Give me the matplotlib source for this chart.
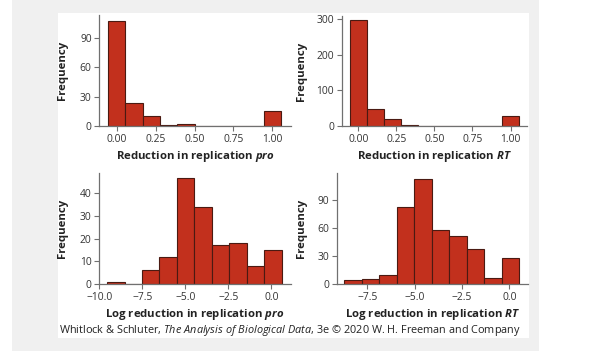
import numpy as np
import matplotlib
matplotlib.use("Agg")
import matplotlib.pyplot as plt
from matplotlib.patches import Rectangle

# ---------------------------------------------------------------------------
# Gegevens.
# ---------------------------------------------------------------------------
frac_edges = [-0.056, 0.056, 0.167, 0.278, 0.389, 0.5, 0.611, 0.722, 0.833, 0.944, 1.056]
pro_counts = [107, 23, 10, 1, 2, 0, 0, 0, 0, 15]
rt_counts = [296, 47, 20, 3, 1, 1, 0, 0, 0, 28]

log_pro_edges = [-9.55, -8.535, -7.52, -6.505, -5.49, -4.475, -3.46, -2.445, -1.43, -0.415, 0.6]
log_pro_counts = [1, 0, 6, 12, 47, 34, 17, 18, 8, 15]

log_rt_edges = [-8.71, -7.79, -6.87, -5.94, -5.02, -4.10, -3.18, -2.26, -1.33, -0.41, 0.51]
log_rt_counts = [4, 5, 10, 83, 113, 58, 51, 38, 6, 28]

frac_ticks = [0, 0.25, 0.5, 0.75, 1.0]
frac_ticklabels = ["0.00", "0.25", "0.50", "0.75", "1.00"]
log_pro_ticks = [-10, -7.5, -5, -2.5, 0]
log_pro_ticklabels = ["\u221210.0", "\u22127.5", "\u22125.0", "\u22122.5", "0.0"]
log_rt_ticks = [-7.5, -5, -2.5, 0]
log_rt_ticklabels = ["\u22127.5", "\u22125.0", "\u22122.5", "0.0"]

FONT = "Open Sans"
plt.rcParams["font.family"] = [FONT, "DejaVu Sans"]
plt.rcParams["mathtext.fontset"] = "custom"
plt.rcParams["mathtext.rm"] = FONT
plt.rcParams["mathtext.it"] = f"{FONT}:italic"
plt.rcParams["mathtext.bfit"] = f"{FONT}:italic:bold"

BAR = "#c2301d"
EDGE = "#4a1a12"
SPINE = "#707070"
TXT = "#333333"

W, H = 613, 351
fig = plt.figure(figsize=(W / 100, H / 100), dpi=100)


def px_rect(x0, y0, x1, y1):
    """Rechthoek in pixelcoordinaten (y van boven) -> figuurfracties."""
    return [x0 / W, 1 - y1 / H, (x1 - x0) / W, (y1 - y0) / H]


# achtergrond: grijze band met witte binnenkader
for (x0, y0, x1, y1), col in [((12, 0, 539, H), "#f0f0f0"), ((58, 13, 529, 338), "white")]:
    l, b, w, h = px_rect(x0, y0, x1, y1)
    fig.add_artist(Rectangle((l, b), w, h, transform=fig.transFigure,
                             facecolor=col, edgecolor="none", zorder=-10))


def histogram(rect, label_x, edges, counts, xlim, ylim, xticks, xticklabels, yticks, xlabel):
    ax = fig.add_axes(px_rect(*rect))
    ax.patch.set_alpha(0)
    edges = np.asarray(edges)
    ax.bar(edges[:-1], counts, width=np.diff(edges), align="edge",
           color=BAR, edgecolor=EDGE, linewidth=0.8)
    ax.set_xlim(*xlim)
    ax.set_ylim(*ylim)
    ax.set_xticks(xticks)
    ax.set_xticklabels(xticklabels)
    ax.set_yticks(yticks)
    for side in ("top", "right"):
        ax.spines[side].set_visible(False)
    for side in ("left", "bottom"):
        ax.spines[side].set_color(SPINE)
        ax.spines[side].set_linewidth(0.9)
    ax.tick_params(length=3.5, width=0.8, color=SPINE, labelsize=7.4,
                   labelcolor=TXT, pad=2)
    ax.set_xlabel(xlabel, fontsize=8.2, fontweight="bold", color="#222222", labelpad=3)
    ax.set_ylabel("Frequency", fontsize=8.2, fontweight="bold", color="#222222")
    # label_x = rechterrand van het gedraaide label, in pixels
    ax.yaxis.set_label_coords(-(rect[0] - label_x) / (rect[2] - rect[0]), 0.5)
    return ax


histogram((99.3, 15, 291, 126), 68, frac_edges, pro_counts, (-0.112, 1.12), (0, 113),
          frac_ticks, frac_ticklabels, [0, 30, 60, 90],
          r"Reduction in replication $\mathbfit{pro}$")
histogram((341.7, 16, 527, 126), 307, frac_edges, rt_counts, (-0.109, 1.108), (0, 308),
          frac_ticks, frac_ticklabels, [0, 100, 200, 300],
          r"Reduction in replication $\mathbfit{RT}$")
histogram((99.3, 173, 291, 284), 68, log_pro_edges, log_pro_counts, (-10.0, 1.14), (0, 49),
          log_pro_ticks, log_pro_ticklabels, [0, 10, 20, 30, 40],
          r"Log reduction in replication $\mathbfit{pro}$")
histogram((336.7, 173, 528, 284), 307, log_rt_edges, log_rt_counts, (-9.12, 0.98), (0, 119),
          log_rt_ticks, log_rt_ticklabels, [0, 30, 60, 90],
          r"Log reduction in replication $\mathbfit{RT}$")

fig.text(290 / W, 1 - 330 / H,
         r"Whitlock & Schluter, $\mathit{The\ Analysis\ of\ Biological\ Data}$, 3e © 2020 W. H. Freeman and Company",
         ha="center", va="center", fontsize=7.85, color="#222222")

fig.savefig("out.png", dpi=100)
